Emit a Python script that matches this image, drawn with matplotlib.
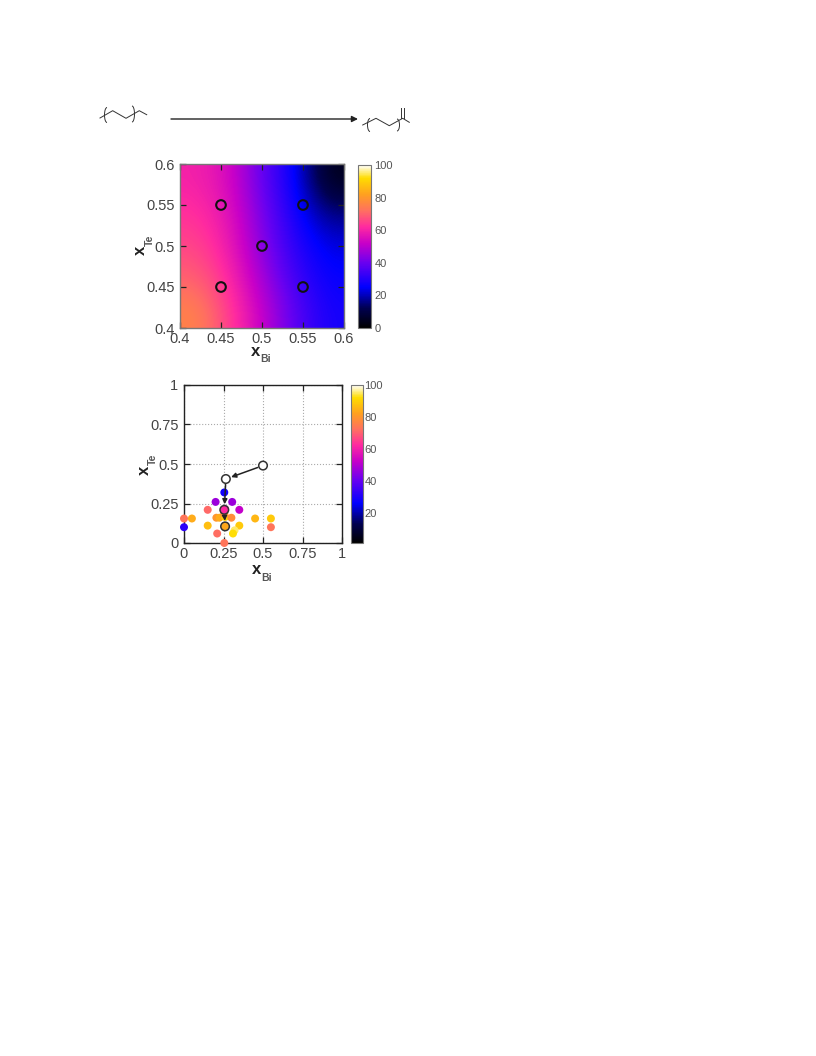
import numpy as np
import matplotlib
matplotlib.use('Agg')
import matplotlib.pyplot as plt
from matplotlib.colors import LinearSegmentedColormap
from matplotlib.patches import Arc

W, H = 816, 1056

# heatmap values, rows go from x_Te = 0.4 up to 0.6
map_bi = [0.4, 0.45, 0.5, 0.55, 0.6]
map_te = [0.4, 0.45, 0.5, 0.55, 0.6]
map_yield = [
    [76, 65, 52, 38, 28],
    [70, 62, 48, 34, 26],
    [66, 59, 44, 31, 23],
    [63, 57, 42, 28, 16],
    [60, 55, 39, 26, 4],
]
map_pts_bi = [0.45, 0.55, 0.5, 0.45, 0.55]
map_pts_te = [0.55, 0.55, 0.5, 0.45, 0.45]

# scatter of measured compositions
pts_bi = [0, 0.05, 0, 0.15, 0.2, 0.255, 0.305, 0.35, 0.15, 0.205, 0.225, 0.26, 0.3,
          0.35, 0.21, 0.32, 0.31, 0.255, 0.45, 0.55, 0.55, 0.255, 0.26]
pts_te = [0.155, 0.155, 0.1, 0.21, 0.26, 0.32, 0.26, 0.21, 0.11, 0.16, 0.16, 0.165, 0.16,
          0.11, 0.06, 0.08, 0.06, 0, 0.155, 0.155, 0.1, 0.185, 0.215]
pts_yield = [73, 84, 32, 71, 47, 28, 47, 52, 87, 80, 84, 90, 78,
             89, 72, 95, 92, 73, 86, 89, 73, 78, 60]

# optimisation path, white = start, last = final
path_bi = [0.5, 0.265, 0.255, 0.26]
path_te = [0.49, 0.405, 0.21, 0.105]
path_yield = [100, 100, 62, 83]

ticks1 = [0.4, 0.45, 0.5, 0.55, 0.6]
ticklabels1 = ['0.4', '0.45', '0.5', '0.55', '0.6']
ticks2 = [0, 0.25, 0.5, 0.75, 1]
ticklabels2 = ['0', '0.25', '0.5', '0.75', '1']
cb1_ticks = [0, 20, 40, 60, 80, 100]
cb2_ticks = [20, 40, 60, 80, 100]

plt.rcParams['font.family'] = ['Liberation Sans', 'DejaVu Sans']

palette = LinearSegmentedColormap.from_list('yield_pal', [
    (0.00, '#000000'), (0.12, '#000050'), (0.25, '#0000ff'), (0.40, '#6a00f0'),
    (0.52, '#c800c8'), (0.62, '#ff2aa0'), (0.72, '#ff7060'), (0.82, '#ffa020'),
    (0.92, '#ffdc00'), (1.00, '#ffffff')])


def make_axes(fig, left, top, right, bottom):
    return fig.add_axes([left / W, 1 - bottom / H, (right - left) / W, (bottom - top) / H])


def style_main(ax, ticks, labels, spine_color, pad):
    ax.set_xticks(ticks)
    ax.set_xticklabels(labels)
    ax.set_yticks(ticks)
    ax.set_yticklabels(labels)
    ax.tick_params(direction='in', length=4, width=0.9, colors='#222222', labelcolor='#444444',
                   labelsize=10.5, pad=pad, top=True, right=True)
    ax.tick_params(axis='y', pad=pad + 1)
    for s in ax.spines.values():
        s.set_color(spine_color)
        s.set_linewidth(1.0)


def make_colorbar(fig, im, box, ticks, pad):
    cax = make_axes(fig, *box)
    cb = fig.colorbar(im, cax=cax, ticks=ticks)
    cb.ax.tick_params(direction='in', length=0, labelsize=8, labelcolor='#555555', pad=pad)
    cb.outline.set_edgecolor('#777777')
    cb.outline.set_linewidth(0.8)
    return cb


def axis_name(ov, x, y, name, sx, sy, rot=0):
    # bold x with a small subscript, placed by page pixels
    ov.text(x, y, 'x', fontsize=12, fontweight='bold', color='#222222', rotation=rot,
            ha='center', va='center')
    ov.text(sx, sy, name, fontsize=7.5, fontweight='bold', color='#555555', rotation=rot,
            ha='center', va='center')


def main():
    fig = plt.figure(figsize=(W / 100, H / 100), dpi=100, facecolor='white')

    # heatmap
    ax1 = make_axes(fig, 180, 164, 344, 328)
    im1 = ax1.imshow(np.array(map_yield), origin='lower', cmap=palette, vmin=0, vmax=100,
                     extent=[map_bi[0], map_bi[-1], map_te[0], map_te[-1]], aspect='auto',
                     interpolation='bicubic')
    ax1.scatter(map_pts_bi, map_pts_te, s=48, facecolors='none', edgecolors='#111111', linewidths=1.5)
    ax1.set_xlim(0.4, 0.6)
    ax1.set_ylim(0.4, 0.6)
    style_main(ax1, ticks1, ticklabels1, '#777777', 3)
    make_colorbar(fig, im1, (358, 165, 371, 328), cb1_ticks, 2.5)

    # scatter
    ax2 = make_axes(fig, 184, 385, 342, 543)
    ax2.grid(True, linestyle=':', color='#aaaaaa', linewidth=0.8)
    ax2.set_axisbelow(True)
    sc = ax2.scatter(pts_bi, pts_te, c=pts_yield, s=33, cmap=palette, vmin=1, vmax=100,
                     edgecolors='none', clip_on=False, zorder=3)
    for i in range(len(path_bi) - 1):
        ax2.annotate('', xy=(path_bi[i + 1], path_te[i + 1]), xytext=(path_bi[i], path_te[i]),
                     arrowprops=dict(arrowstyle='-|>', color='#222222', lw=1.1, mutation_scale=7,
                                     shrinkA=4, shrinkB=4), zorder=4)
    ax2.scatter(path_bi, path_te, c=path_yield, s=38, cmap=palette, vmin=1, vmax=100,
                edgecolors='#333333', linewidths=1.1, zorder=5)
    ax2.set_xlim(0, 1)
    ax2.set_ylim(0, 1)
    style_main(ax2, ticks2, ticklabels2, '#222222', 3)
    make_colorbar(fig, sc, (351, 385, 363, 543), cb2_ticks, 1)

    # reaction scheme and axis names on top, in pixel coordinates of the page
    ov = fig.add_axes([0, 0, 1, 1], facecolor='none')
    ov.set_xlim(0, W)
    ov.set_ylim(H, 0)
    ov.axis('off')
    axis_name(ov, 256, 352, 'Bi', 266, 359)
    axis_name(ov, 140, 250, 'Te', 150, 240, rot=90)
    axis_name(ov, 257, 570, 'Bi', 267, 578)
    axis_name(ov, 144, 470, 'Te', 153, 459, rot=90)

    lw = 0.7
    c = '#333333'
    ov.plot([100, 112.7, 126, 139.3, 146.7], [118, 110.7, 118.3, 110.7, 114.7], color=c, lw=lw)
    ov.plot([362.7, 376, 389.3, 402.7, 409.3], [125, 118.3, 125.7, 118.3, 122.3], color=c, lw=lw)
    ov.plot([400.7, 400.7], [108.3, 118.3], color=c, lw=lw)
    ov.plot([403.7, 403.7], [108.3, 118.3], color=c, lw=lw)
    for x, y, h, a, b in [(107, 115, 15, 90, 270), (132, 114, 16, 270, 90),
                          (370, 125, 13, 90, 270), (397, 125, 12, 270, 90)]:
        ov.add_patch(Arc((x, y), 5, h, theta1=a, theta2=b, color=c, lw=lw))
    ov.annotate('', xy=(358, 119), xytext=(171, 119),
                arrowprops=dict(arrowstyle='-|>', color='#222222', lw=1.0, mutation_scale=9,
                                shrinkA=0, shrinkB=0))

    fig.savefig('out.png', dpi=100)


if __name__ == "__main__":
    main()
